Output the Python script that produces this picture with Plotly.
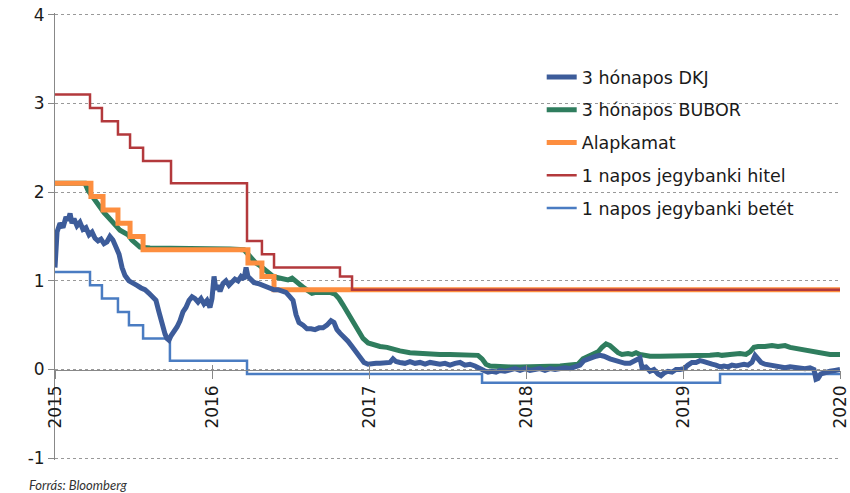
import plotly.graph_objects as go

# ---------------- data ----------------
dkj_x = [2015.000, 2015.013, 2015.032, 2015.051, 2015.070, 2015.083, 2015.096, 2015.108, 2015.121, 2015.140,
         2015.159, 2015.178, 2015.197, 2015.217, 2015.236, 2015.255, 2015.274, 2015.293, 2015.312, 2015.331,
         2015.350, 2015.369, 2015.389, 2015.408, 2015.427, 2015.446, 2015.471, 2015.497, 2015.522, 2015.548,
         2015.573, 2015.599, 2015.624, 2015.643, 2015.662, 2015.682, 2015.701, 2015.713, 2015.726, 2015.739,
         2015.758, 2015.777, 2015.796, 2015.815, 2015.834, 2015.854, 2015.873, 2015.892, 2015.911, 2015.930,
         2015.949, 2015.968, 2015.987, 2016.000, 2016.013, 2016.025, 2016.038, 2016.051, 2016.070, 2016.089,
         2016.108, 2016.127, 2016.146, 2016.166, 2016.185, 2016.204, 2016.217, 2016.229, 2016.248, 2016.268,
         2016.293, 2016.318, 2016.344, 2016.369, 2016.395, 2016.420, 2016.446, 2016.471, 2016.497, 2016.516,
         2016.535, 2016.554, 2016.580, 2016.605, 2016.631, 2016.656, 2016.682, 2016.707, 2016.732, 2016.758,
         2016.777, 2016.796, 2016.815, 2016.841, 2016.866, 2016.892, 2016.917, 2016.943, 2016.968, 2016.994,
         2017.019, 2017.045, 2017.070, 2017.102, 2017.134, 2017.153, 2017.172, 2017.197, 2017.229, 2017.261,
         2017.293, 2017.325, 2017.357, 2017.389, 2017.420, 2017.452, 2017.484, 2017.516, 2017.548, 2017.580,
         2017.611, 2017.643, 2017.675, 2017.707, 2017.732, 2017.758, 2017.783, 2017.809, 2017.834, 2017.866,
         2017.898, 2017.930, 2017.962, 2017.994, 2018.025, 2018.057, 2018.089, 2018.121, 2018.153, 2018.185,
         2018.217, 2018.248, 2018.280, 2018.312, 2018.344, 2018.369, 2018.395, 2018.420, 2018.446, 2018.471,
         2018.497, 2018.535, 2018.567, 2018.599, 2018.631, 2018.662, 2018.701, 2018.726, 2018.739, 2018.764,
         2018.790, 2018.815, 2018.841, 2018.860, 2018.879, 2018.904, 2018.930, 2018.955, 2018.981, 2019.006,
         2019.032, 2019.057, 2019.083, 2019.108, 2019.134, 2019.159, 2019.185, 2019.210, 2019.236, 2019.261,
         2019.287, 2019.312, 2019.338, 2019.363, 2019.389, 2019.414, 2019.439, 2019.459, 2019.478, 2019.497,
         2019.522, 2019.554, 2019.586, 2019.618, 2019.650, 2019.682, 2019.713, 2019.745, 2019.777, 2019.809,
         2019.834, 2019.847, 2019.860, 2019.879, 2019.904, 2019.936, 2019.968, 2020.000]
dkj_y = [1.15, 1.55, 1.65, 1.60, 1.72, 1.68, 1.76, 1.65, 1.70, 1.62,
         1.66, 1.58, 1.60, 1.52, 1.55, 1.48, 1.45, 1.47, 1.42, 1.44,
         1.50, 1.46, 1.38, 1.30, 1.15, 1.06, 1.00, 0.98, 0.95, 0.92,
         0.90, 0.86, 0.82, 0.78, 0.65, 0.50, 0.40, 0.35, 0.33, 0.38,
         0.42, 0.48, 0.55, 0.65, 0.70, 0.78, 0.82, 0.80, 0.76, 0.80,
         0.74, 0.78, 0.70, 0.80, 1.05, 0.90, 0.95, 0.88, 0.97, 1.00,
         0.95, 0.98, 1.02, 1.00, 1.05, 1.02, 1.15, 1.05, 1.02, 0.98,
         0.97, 0.95, 0.93, 0.92, 0.90, 0.90, 0.88, 0.87, 0.82, 0.78,
         0.62, 0.53, 0.50, 0.46, 0.46, 0.45, 0.47, 0.47, 0.50, 0.55,
         0.53, 0.45, 0.41, 0.37, 0.32, 0.26, 0.20, 0.13, 0.08, 0.06,
         0.07, 0.07, 0.07, 0.07, 0.08, 0.12, 0.09, 0.08, 0.07, 0.09,
         0.07, 0.08, 0.06, 0.08, 0.07, 0.06, 0.07, 0.05, 0.07, 0.08,
         0.05, 0.06, 0.04, 0.02, -0.01, -0.03, -0.02, -0.03, -0.01, -0.02,
         0.00, 0.01, -0.01, 0.01, -0.01, 0.00, 0.01, -0.01, 0.01, 0.00,
         0.01, 0.02, 0.01, 0.03, 0.05, 0.10, 0.12, 0.13, 0.15, 0.16,
         0.15, 0.12, 0.10, 0.09, 0.07, 0.07, 0.10, 0.13, 0.02, 0.03,
         -0.02, 0.00, -0.05, -0.07, -0.04, -0.02, -0.03, 0.00, 0.00, 0.01,
         0.05, 0.08, 0.08, 0.10, 0.09, 0.07, 0.06, 0.05, 0.03, 0.04,
         0.03, 0.05, 0.04, 0.05, 0.06, 0.05, 0.08, 0.16, 0.12, 0.08,
         0.06, 0.05, 0.03, 0.02, 0.02, 0.03, 0.02, 0.02, 0.01, 0.02,
         0.00, -0.11, -0.10, -0.05, -0.03, -0.02, -0.01, 0.00]

bubor_x = [2015.000, 2015.096, 2015.191, 2015.210, 2015.236, 2015.261, 2015.287, 2015.312, 2015.338, 2015.363,
           2015.389, 2015.414, 2015.439, 2015.465, 2015.490, 2015.516, 2015.541, 2015.605, 2015.669, 2015.732,
           2015.860, 2015.987, 2016.115, 2016.204, 2016.229, 2016.255, 2016.280, 2016.306, 2016.331, 2016.357,
           2016.382, 2016.408, 2016.433, 2016.459, 2016.484, 2016.510, 2016.535, 2016.561, 2016.586, 2016.611,
           2016.637, 2016.662, 2016.688, 2016.720, 2016.752, 2016.783, 2016.809, 2016.834, 2016.860, 2016.885,
           2016.911, 2016.936, 2016.962, 2016.994, 2017.025, 2017.070, 2017.115, 2017.153, 2017.197, 2017.261,
           2017.325, 2017.389, 2017.452, 2017.516, 2017.580, 2017.643, 2017.694, 2017.720, 2017.745, 2017.771,
           2017.834, 2017.898, 2017.962, 2018.025, 2018.089, 2018.153, 2018.217, 2018.280, 2018.331, 2018.363,
           2018.395, 2018.433, 2018.459, 2018.484, 2018.510, 2018.535, 2018.561, 2018.586, 2018.611, 2018.650,
           2018.675, 2018.701, 2018.726, 2018.758, 2018.790, 2018.854, 2018.917, 2018.981, 2019.045, 2019.108,
           2019.172, 2019.223, 2019.248, 2019.299, 2019.363, 2019.401, 2019.427, 2019.452, 2019.478, 2019.522,
           2019.567, 2019.605, 2019.650, 2019.682, 2019.713, 2019.745, 2019.796, 2019.841, 2019.873, 2019.936,
           2020.000]
bubor_y = [2.10, 2.10, 2.10, 2.02, 1.95, 1.90, 1.82, 1.77, 1.72, 1.68,
           1.62, 1.57, 1.54, 1.52, 1.46, 1.42, 1.38, 1.37, 1.37, 1.36,
           1.36, 1.36, 1.36, 1.35, 1.30, 1.24, 1.20, 1.17, 1.13, 1.10,
           1.06, 1.04, 1.03, 1.01, 1.01, 1.03, 0.99, 0.95, 0.92, 0.89,
           0.86, 0.87, 0.87, 0.88, 0.87, 0.85, 0.80, 0.73, 0.65, 0.57,
           0.48, 0.42, 0.35, 0.30, 0.28, 0.26, 0.25, 0.23, 0.21, 0.19,
           0.18, 0.18, 0.17, 0.17, 0.17, 0.16, 0.16, 0.12, 0.06, 0.04,
           0.03, 0.03, 0.03, 0.03, 0.03, 0.04, 0.04, 0.05, 0.06, 0.12,
           0.15, 0.17, 0.20, 0.25, 0.29, 0.27, 0.22, 0.19, 0.17, 0.18,
           0.17, 0.19, 0.17, 0.16, 0.15, 0.15, 0.15, 0.16, 0.16, 0.15,
           0.16, 0.17, 0.16, 0.17, 0.18, 0.17, 0.20, 0.25, 0.26, 0.26,
           0.27, 0.26, 0.27, 0.25, 0.24, 0.22, 0.21, 0.20, 0.18, 0.17,
           0.17]

alap_x = [2015.000, 2015.229, 2015.306, 2015.401, 2015.478, 2015.561, 2016.229, 2016.318, 2016.395, 2020.000]
alap_y = [2.10, 1.95, 1.80, 1.65, 1.50, 1.35, 1.20, 1.05, 0.90, 0.90]

hitel_x = [2015.000, 2015.223, 2015.299, 2015.401, 2015.478, 2015.561, 2015.739, 2016.223, 2016.318, 2016.395,
           2016.815, 2016.892, 2020.000]
hitel_y = [3.10, 2.95, 2.80, 2.65, 2.50, 2.35, 2.10, 1.45, 1.30, 1.15,
           1.05, 0.90, 0.90]

betet_x = [2015.000, 2015.223, 2015.299, 2015.401, 2015.471, 2015.561, 2015.732, 2016.223, 2017.720, 2019.236, 2020.000]
betet_y = [1.10, 0.95, 0.80, 0.65, 0.50, 0.35, 0.10, -0.05, -0.15, -0.05, -0.05]

series_names = ["3 hónapos DKJ", "3 hónapos BUBOR", "Alapkamat",
                "1 napos jegybanki hitel", "1 napos jegybanki betét"]

x_tickvals = [2015, 2016, 2017, 2018, 2019, 2020]
x_ticktext = ["2015", "2016", "2017", "2018", "2019", "2020"]
y_tickvals = [-1, 0, 1, 2, 3, 4]
y_ticktext = ["-1", "0", "1", "2", "3", "4"]
source_text = "Forrás: Bloomberg"

# ---------------- figure ----------------
fig = go.Figure()

def add(x, y, name, color, width, rank, shape="linear"):
    fig.add_trace(go.Scatter(
        x=x, y=y, name=name, mode="lines",
        line=dict(color=color, width=width, shape=shape),
        legendgroup=name, legendrank=rank, hoverinfo="skip"))

add(betet_x, betet_y, series_names[4], "#4a7cc2", 2.5, 5, "hv")
add(bubor_x, bubor_y, series_names[1], "#2f7d5e", 5, 2)
add(alap_x, alap_y, series_names[2], "#fd8e3f", 5, 3, "hv")
add(hitel_x, hitel_y, series_names[3], "#b3393c", 2.5, 4, "hv")
add(dkj_x, dkj_y, series_names[0], "#3d5c9a", 5, 1)

# y range padded slightly so the gridlines at -1 and 4 are drawn
y_range = [-1.02, 4.02]
zero_pos = (0 - y_range[0]) / (y_range[1] - y_range[0])

fig.update_layout(
    width=850, height=493,
    margin=dict(l=55, r=10, t=13, b=33, autoexpand=False),
    paper_bgcolor="white", plot_bgcolor="white",
    showlegend=True,
    legend=dict(
        x=0.62, y=0.897, xanchor="left", yanchor="top",
        font=dict(family="DejaVu Sans", size=17.5, color="#1a1a1a"),
        bgcolor="rgba(255,255,255,0)",
        traceorder="grouped", tracegroupgap=7, itemwidth=30,
    ),
    xaxis=dict(
        range=[2015, 2020], anchor="free", position=zero_pos, automargin=False,
        tickvals=x_tickvals, ticktext=x_ticktext, tickangle=-90,
        ticks="outside", ticklen=8, tickcolor="#888",
        showline=True, linecolor="#888", linewidth=1,
        showgrid=False, zeroline=False, ticklabeloverflow="allow",
        tickfont=dict(family="DejaVu Sans", size=17, color="#1a1a1a"),
    ),
    xaxis2=dict(
        range=[2015, 2020], anchor="free", position=zero_pos, overlaying="x",
        automargin=False, tickvals=x_tickvals, showticklabels=False,
        ticks="inside", ticklen=5, tickcolor="#888",
        showline=False, showgrid=False, zeroline=False,
    ),
    yaxis=dict(
        range=y_range, tickvals=y_tickvals, ticktext=y_ticktext, automargin=False,
        ticks="outside", ticklen=6, tickcolor="#888",
        showline=True, linecolor="#888", linewidth=1,
        showgrid=True, gridcolor="#999", griddash="dot", gridwidth=1,
        zeroline=False, ticklabeloverflow="allow",
        tickfont=dict(family="DejaVu Sans", size=17, color="#1a1a1a"),
    ),
    annotations=[dict(
        text=source_text, xref="paper", yref="paper",
        x=-0.036, y=-0.056, xanchor="left", yanchor="middle",
        showarrow=False,
        font=dict(family="Lato", size=13, color="#333", style="italic"),
    )],
)

# invisible helper trace so the overlaying x-axis with the upward tick marks is drawn
fig.add_trace(go.Scatter(x=[x_tickvals[0]], y=[y_tickvals[1]], xaxis="x2", mode="lines",
                         showlegend=False, hoverinfo="skip", line=dict(width=0)))

# remove the browser's default 8px body margin so the figure fills the window exactly
fig.write_html("out.html",
               config={"displayModeBar": False},
               post_script="document.body.style.margin='0px';document.body.style.overflow='hidden';")
